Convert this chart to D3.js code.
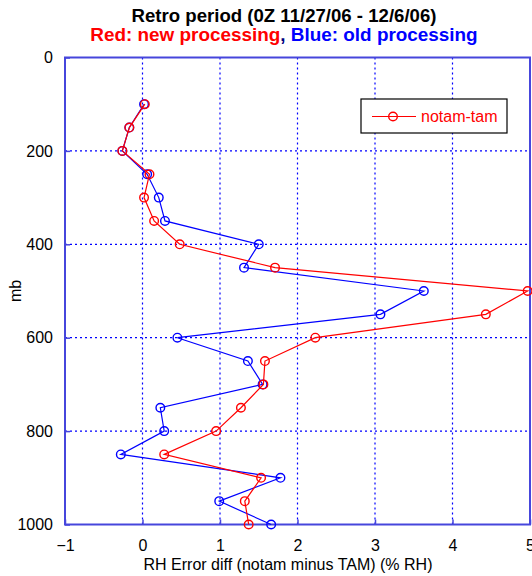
<!DOCTYPE html>
<html>
<head>
<meta charset="utf-8">
<script src="https://cdn.jsdelivr.net/npm/d3@7"></script>
<style>
  html, body { margin: 0; padding: 0; background: #fff; }
  svg { display: block; font-family: "Liberation Sans", Arial, sans-serif; }
</style>
</head>
<body>
<svg id="chart" width="532" height="576"></svg>
<script>
// Data
const levels = [100,150,200,250,300,350,400,450,500,550,600,650,700,750,800,850,900,950,1000];
const redNew = [0.03,-0.17,-0.26,0.09,0.02,0.15,0.48,1.71,4.97,4.43,2.23,1.58,1.56,1.27,0.95,0.28,1.53,1.32,1.37];
const blueOld = [0.02,-0.17,-0.26,0.06,0.21,0.29,1.50,1.31,3.63,3.07,0.45,1.36,1.55,0.23,0.28,-0.28,1.78,0.99,1.66];
const xTicks = [-1,0,1,2,3,4,5];
const yTicks = [0,200,400,600,800,1000];
const titleText = "Retro period (0Z 11/27/06 - 12/6/06)";
const legendLabel = "notam-tam";
const xLabel = "RH Error diff (notam minus TAM) (% RH)";
const yLabel = "mb";

const svg = d3.select("#chart");
const L = 65, R = 530, T = 57.5, B = 524.5;
const x = d3.scaleLinear().domain([-1,5]).range([L,R]);
const y = d3.scaleLinear().domain([0,1000]).range([T,B]);
const frameColor = "#4646dc";
const gridColor = "#0000ff";

// Grid
const g = svg.append("g");
g.selectAll("line.gx").data(xTicks.slice(1,-1)).enter().append("line")
  .attr("x1", d=>x(d)).attr("x2", d=>x(d)).attr("y1", T).attr("y2", B)
  .attr("stroke", gridColor).attr("stroke-width", 1.2).attr("stroke-dasharray", "2,3");
g.selectAll("line.gy").data(yTicks.slice(1,-1)).enter().append("line")
  .attr("y1", d=>y(d)).attr("y2", d=>y(d)).attr("x1", L).attr("x2", R)
  .attr("stroke", gridColor).attr("stroke-width", 1.2).attr("stroke-dasharray", "2,3");

// Axes via d3
const xAxis = svg.append("g").attr("transform", `translate(0,${B})`)
  .call(d3.axisBottom(x).tickValues(xTicks).tickSize(-5).tickPadding(12).tickFormat(d3.format("d")));
const yAxis = svg.append("g").attr("transform", `translate(${L},0)`)
  .call(d3.axisLeft(y).tickValues(yTicks).tickSize(-5).tickPadding(12).tickFormat(d3.format("d")));
[xAxis, yAxis].forEach(a => {
  a.select(".domain").remove();
  a.selectAll(".tick line").attr("stroke", frameColor).attr("stroke-width", 1.5);
  a.selectAll(".tick text").attr("fill", "#000").style("font-size", "16px")
    .style("font-family", "'Liberation Sans', Arial, sans-serif");
});
xAxis.selectAll(".tick text").attr("dy", "0.71em").attr("y", 15);

// Frame
svg.append("rect").attr("x", L).attr("y", T).attr("width", R-L).attr("height", B-T)
  .attr("fill", "none").attr("stroke", frameColor).attr("stroke-width", 2);

// Series
const line = d3.line().x(d=>x(d[0])).y(d=>y(d[1]));
function drawSeries(vals, color) {
  const pts = vals.map((v,i)=>[v, levels[i]]);
  svg.append("path").datum(pts).attr("d", line).attr("fill","none")
    .attr("stroke", color).attr("stroke-width", 1.2);
  svg.append("g").selectAll("circle").data(pts).enter().append("circle")
    .attr("cx", d=>x(d[0])).attr("cy", d=>y(d[1])).attr("r", 4.3)
    .attr("fill","none").attr("stroke", color).attr("stroke-width", 1.4);
}
drawSeries(blueOld, "#0000ff");
drawSeries(redNew, "#ff0000");

// Titles
svg.append("text").attr("x", 284).attr("y", 22).attr("text-anchor","middle")
  .style("font-size","18.6px").style("font-weight","bold").attr("fill","#000").text(titleText);
const sub = svg.append("text").attr("x", 284).attr("y", 41).attr("text-anchor","middle")
  .style("font-size","18.9px").style("font-weight","bold");
sub.append("tspan").attr("fill","#ff0000").text("Red: new processing");
sub.append("tspan").attr("fill","#000080").text(", ");
sub.append("tspan").attr("fill","#0000ff").text("Blue: old processing");

// Axis labels
svg.append("text").attr("x", 288).attr("y", 570).attr("text-anchor","middle")
  .style("font-size","16px").attr("fill","#000").text(xLabel);
svg.append("text").attr("transform","translate(21,291) rotate(-90)").attr("text-anchor","middle")
  .style("font-size","16px").attr("fill","#000").text(yLabel);

// Legend
const lg = svg.append("g");
lg.append("rect").attr("x", 361).attr("y", 99).attr("width", 146).attr("height", 34)
  .attr("fill","#fff").attr("stroke","#000").attr("stroke-width",1.2);
lg.append("line").attr("x1", 372).attr("x2", 416).attr("y1", 116.5).attr("y2", 116.5)
  .attr("stroke","#ff0000").attr("stroke-width",1.2);
lg.append("circle").attr("cx", 393).attr("cy", 116.5).attr("r", 4.3)
  .attr("fill","none").attr("stroke","#ff0000").attr("stroke-width",1.4);
lg.append("text").attr("x", 421).attr("y", 122).style("font-size","16px")
  .attr("fill","#ff0000").text(legendLabel);
</script>
</body>
</html>
